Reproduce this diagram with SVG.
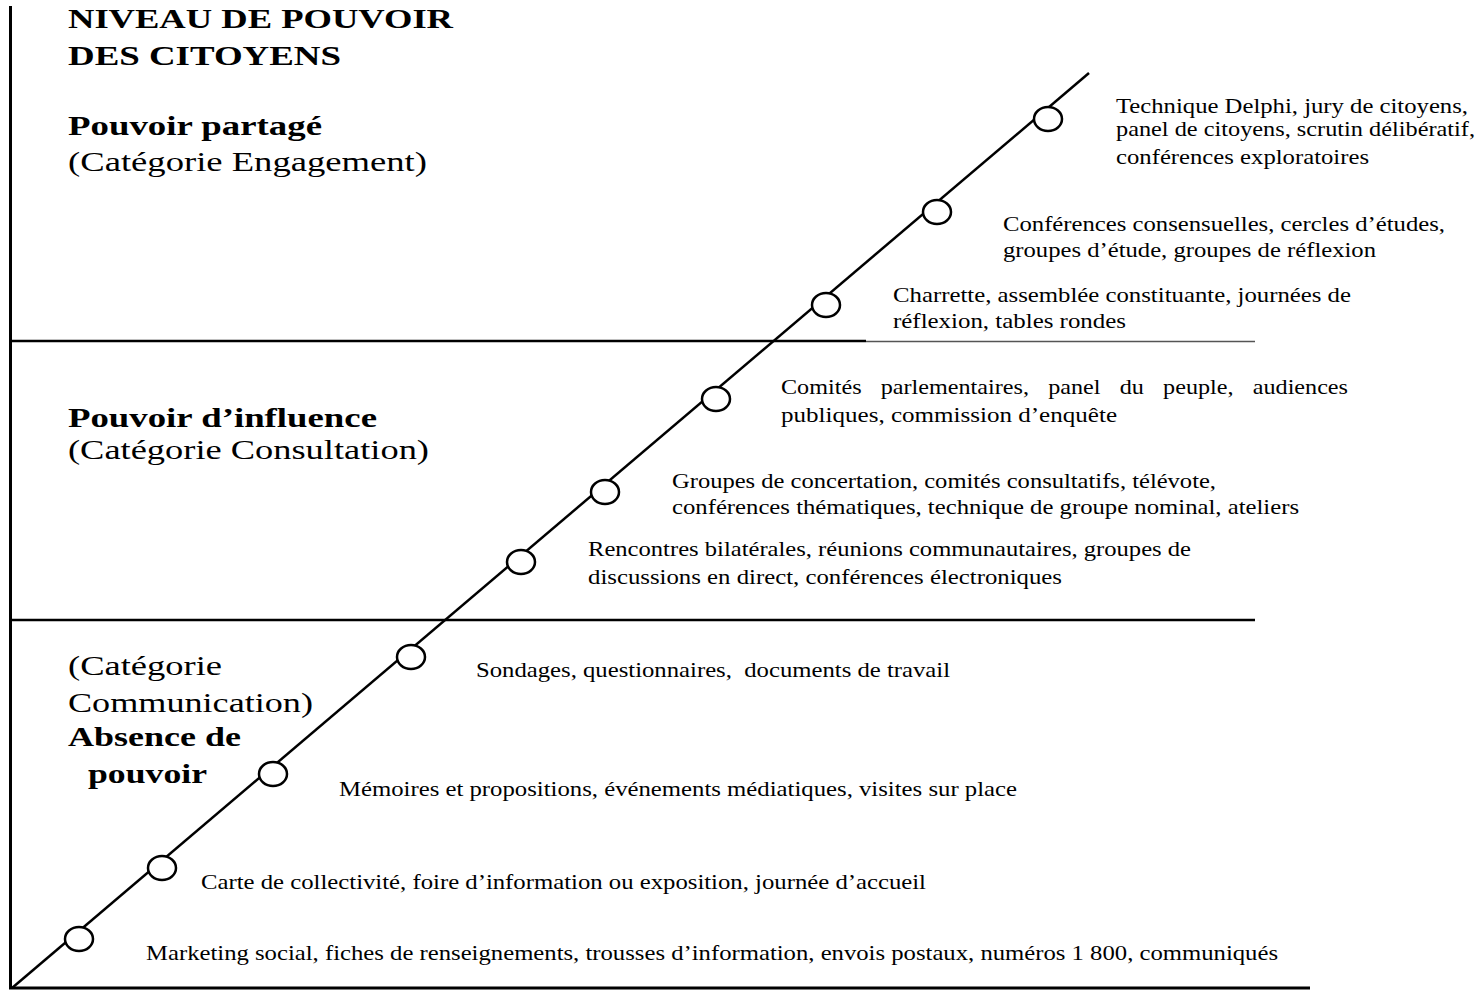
<svg xmlns="http://www.w3.org/2000/svg" width="1482" height="990" viewBox="0 0 1482 990">
<style>
text{font-family:'Liberation Serif','Times New Roman',serif;fill:#000}
.h{font-size:27px}
.b{font-weight:bold}
.t{font-size:22px}
.ax{stroke:#000;stroke-width:3;fill:none}
.sep{stroke:#000;stroke-width:2.5;fill:none}
.thin{stroke:#555;stroke-width:1.5;fill:none}
.dot{fill:#fff;stroke:#000;stroke-width:2.5}
.diag{stroke:#000;stroke-width:2.5;fill:none}
</style>
<rect width="1482" height="990" fill="#fff"/>
<g id="axes">
<line class="ax" x1="10.5" y1="6" x2="10.5" y2="989"/>
<line class="ax" x1="9" y1="988" x2="1310" y2="988"/>
<line class="sep" x1="10" y1="341" x2="866" y2="341"/>
<line class="thin" x1="866" y1="341.5" x2="1255" y2="341.5"/>
<line class="sep" x1="10" y1="620" x2="1255" y2="620"/>
</g>
<g id="headings">
<text class="h b" x="68" y="28" textLength="385" lengthAdjust="spacingAndGlyphs">NIVEAU DE POUVOIR</text>
<text class="h b" x="68" y="65" textLength="273" lengthAdjust="spacingAndGlyphs">DES CITOYENS</text>
<text class="h b" x="68" y="135" textLength="254" lengthAdjust="spacingAndGlyphs">Pouvoir  partagé</text>
<text class="h" x="68" y="171" textLength="359" lengthAdjust="spacingAndGlyphs">(Catégorie Engagement)</text>
<text class="h b" x="68" y="427" textLength="309" lengthAdjust="spacingAndGlyphs">Pouvoir  d’influence</text>
<text class="h" x="68" y="459" textLength="361" lengthAdjust="spacingAndGlyphs">(Catégorie Consultation)</text>
<text class="h" x="68" y="675" textLength="154" lengthAdjust="spacingAndGlyphs">(Catégorie</text>
<text class="h" x="68" y="712" textLength="245" lengthAdjust="spacingAndGlyphs">Communication)</text>
<text class="h b" x="68" y="746" textLength="173" lengthAdjust="spacingAndGlyphs">Absence de</text>
<text class="h b" x="88" y="783" textLength="119" lengthAdjust="spacingAndGlyphs">pouvoir</text>
</g>
<g id="connectors">
<line class="diag" x1="12" y1="988" x2="1089" y2="73"/>
</g>
<g id="n1">
<ellipse class="dot" cx="79" cy="939" rx="14" ry="12"/>
<text class="t" x="146" y="960" textLength="1132" lengthAdjust="spacingAndGlyphs">Marketing social, fiches de renseignements, trousses d’information, envois postaux, numéros 1 800, communiqués</text>
</g>
<g id="n2">
<ellipse class="dot" cx="162" cy="868" rx="14" ry="12"/>
<text class="t" x="201" y="889" textLength="725" lengthAdjust="spacingAndGlyphs">Carte de collectivité, foire d’information ou exposition, journée d’accueil</text>
</g>
<g id="n3">
<ellipse class="dot" cx="273" cy="774" rx="14" ry="12"/>
<text class="t" x="339" y="796" textLength="678" lengthAdjust="spacingAndGlyphs">Mémoires et propositions, événements médiatiques, visites sur place</text>
</g>
<g id="n4">
<ellipse class="dot" cx="411" cy="657" rx="14" ry="12"/>
<text class="t" x="476" y="677" textLength="474" lengthAdjust="spacingAndGlyphs" xml:space="preserve">Sondages, questionnaires,  documents de travail</text>
</g>
<g id="n5">
<ellipse class="dot" cx="521" cy="562" rx="14" ry="12"/>
<text class="t" x="588" y="556" textLength="603" lengthAdjust="spacingAndGlyphs">Rencontres bilatérales, réunions communautaires, groupes de</text>
<text class="t" x="588" y="584" textLength="474" lengthAdjust="spacingAndGlyphs">discussions en direct, conférences électroniques</text>
</g>
<g id="n6">
<ellipse class="dot" cx="605" cy="492" rx="14" ry="12"/>
<text class="t" x="672" y="488" textLength="544" lengthAdjust="spacingAndGlyphs">Groupes de concertation, comités consultatifs, télévote,</text>
<text class="t" x="672" y="514" textLength="627" lengthAdjust="spacingAndGlyphs">conférences thématiques, technique de groupe nominal, ateliers</text>
</g>
<g id="n7">
<ellipse class="dot" cx="716" cy="399" rx="14" ry="12"/>
<text class="t" x="781" y="394" word-spacing="12" textLength="567" lengthAdjust="spacingAndGlyphs">Comités parlementaires, panel du peuple, audiences</text>
<text class="t" x="781" y="422" textLength="336" lengthAdjust="spacingAndGlyphs">publiques, commission d’enquête</text>
</g>
<g id="n8">
<ellipse class="dot" cx="826" cy="305" rx="14" ry="12"/>
<text class="t" x="893" y="302" textLength="458" lengthAdjust="spacingAndGlyphs">Charrette, assemblée constituante, journées de</text>
<text class="t" x="893" y="328" textLength="233" lengthAdjust="spacingAndGlyphs">réflexion, tables rondes</text>
</g>
<g id="n9">
<ellipse class="dot" cx="937" cy="212" rx="14" ry="12"/>
<text class="t" x="1003" y="231" textLength="442" lengthAdjust="spacingAndGlyphs">Conférences consensuelles, cercles d’études,</text>
<text class="t" x="1003" y="257" textLength="373" lengthAdjust="spacingAndGlyphs">groupes d’étude, groupes de réflexion</text>
</g>
<g id="n10">
<ellipse class="dot" cx="1048" cy="119" rx="14" ry="12"/>
<text class="t" x="1116" y="113" textLength="352" lengthAdjust="spacingAndGlyphs">Technique Delphi, jury de citoyens,</text>
<text class="t" x="1116" y="136" textLength="359" lengthAdjust="spacingAndGlyphs">panel de citoyens, scrutin délibératif,</text>
<text class="t" x="1116" y="164" textLength="253" lengthAdjust="spacingAndGlyphs">conférences exploratoires</text>
</g>
</svg>
